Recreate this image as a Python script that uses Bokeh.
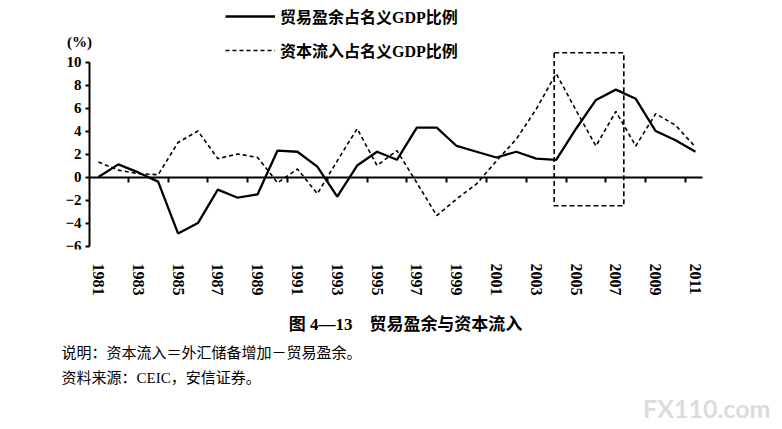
import math
from bokeh.plotting import figure
from bokeh.models import Range1d, LinearAxis, FixedTicker, Legend, LegendItem, Label, Title
from bokeh.embed import file_html
from bokeh.resources import INLINE

# ---- data ----
years = list(range(1981, 2012))
trade_surplus = [0.0, 1.1, 0.4, -0.4, -4.9, -4.0, -1.1, -1.8, -1.5, 2.3,
                 2.2, 0.9, -1.7, 1.0, 2.2, 1.5, 4.3, 4.3, 2.7, 2.2,
                 1.7, 2.2, 1.6, 1.5, 4.2, 6.7, 7.6, 6.8, 4.0, 3.2, 2.2]
capital_inflow = [1.3, 0.6, 0.3, 0.2, 3.0, 4.0, 1.6, 2.0, 1.7, -0.5,
                  0.7, -1.45, 1.4, 4.2, 1.0, 2.3, -0.5, -3.35, -1.9, -0.6,
                  1.4, 3.3, 5.9, 9.0, 5.8, 2.7, 5.7, 2.7, 5.5, 4.5, 2.6]
label_years = years[::2]
boundary_ticks = [y + 0.5 for y in years[1::2]]
y_ticks = list(range(-6, 11, 2))
highlight_left, highlight_right = 2003.9, 2007.4
highlight_bottom, highlight_top = -2.5, 10.8

series_names = ["贸易盈余占名义GDP比例", "资本流入占名义GDP比例"]
unit_text = "(%)"
caption = "图 4—13\u3000贸易盈余与资本流入"
note_text = "说明：资本流入＝外汇储备增加－贸易盈余。"
source_text = "资料来源：CEIC，安信证券。"
watermark = "FX110.com"

SERIF = "Liberation Serif"
CJK = "Noto Sans CJK SC"
MIX = "Liberation Serif, Noto Sans CJK SC"

# axis extent (data) and view range (wider, so texts fit in the frame)
ax_x0, ax_x1 = 1980.55, 2011.35
view_x0, view_x1 = 1978.09, 2014.77
view_y0, view_y1 = -6.3, 15.0

p = figure(width=782, height=429, output_backend="svg", toolbar_location=None,
           x_range=Range1d(view_x0, view_x1), y_range=Range1d(view_y0, view_y1),
           x_axis_location=None, y_axis_location=None,
           min_border_left=40, min_border_right=12,
           min_border_top=4, min_border_bottom=180)
p.outline_line_color = None
for g in p.grid:
    g.visible = False
p.background_fill_color = "white"
p.border_fill_color = "white"

# y axis placed at the start of the data
yaxis = LinearAxis(ticker=FixedTicker(ticks=y_ticks), bounds=(-6, 10),
                   fixed_location=ax_x0)
yaxis.axis_line_width = 2
yaxis.axis_line_color = "black"
yaxis.major_tick_out = 4
yaxis.major_tick_in = 0
yaxis.major_tick_line_width = 2
yaxis.minor_tick_line_color = None
yaxis.major_label_standoff = 4
yaxis.major_label_text_font = SERIF
yaxis.major_label_text_font_style = "bold"
yaxis.major_label_text_font_size = "15px"
yaxis.major_label_text_color = "black"
p.add_layout(yaxis, "left")

# axis line at zero with ticks between the years
zaxis = LinearAxis(ticker=FixedTicker(ticks=boundary_ticks), fixed_location=0,
                   bounds=(ax_x0, ax_x1))
zaxis.axis_line_width = 2
zaxis.axis_line_color = "black"
zaxis.major_tick_in = 5
zaxis.major_tick_out = 0
zaxis.minor_tick_out = 0
zaxis.minor_tick_in = 0
zaxis.major_tick_line_width = 2
zaxis.minor_tick_line_color = None
zaxis.major_label_standoff = 0
zaxis.major_label_overrides = {t: "" for t in boundary_ticks}
p.add_layout(zaxis, "above")

# year labels at the bottom
xlab = LinearAxis(ticker=FixedTicker(ticks=label_years))
xlab.axis_line_color = None
xlab.major_tick_line_color = None
xlab.minor_tick_line_color = None
xlab.major_tick_out = 0
xlab.minor_tick_out = 0
xlab.major_label_orientation = -math.pi / 2
xlab.major_label_standoff = 14
xlab.major_label_text_font = SERIF
xlab.major_label_text_font_style = "bold"
xlab.major_label_text_font_size = "16px"
xlab.major_label_text_color = "black"
p.add_layout(xlab, "below")

r1 = p.line(years, trade_surplus, line_color="black", line_width=2.3)
r2 = p.line(years, capital_inflow, line_color="black", line_width=1.6, line_dash="4 3")
p.quad(left=[highlight_left], right=[highlight_right], bottom=[highlight_bottom],
       top=[highlight_top], fill_color=None, line_color="black", line_width=1.6,
       line_dash="5 3")

legend = Legend(items=[LegendItem(label=series_names[0], renderers=[r1]),
                       LegendItem(label=series_names[1], renderers=[r2])],
                location=(185, 187), orientation="vertical",
                glyph_width=50, glyph_height=20, label_height=20, spacing=10,
                padding=0, margin=0, border_line_color=None,
                background_fill_alpha=0, label_standoff=5,
                label_text_font=MIX, label_text_font_size="16px",
                label_text_font_style="bold", label_text_color="black")
p.add_layout(legend)

p.add_layout(Label(x=39, y=208, x_units="screen", y_units="screen", text=unit_text,
                   text_font=SERIF, text_font_size="15px", text_font_style="bold",
                   text_color="black", text_align="center", text_baseline="middle"))


def add_title(text, align, offset, size, font, style, standoff, color="black"):
    t = Title(text=text, align=align, offset=offset, text_font=font,
              text_font_size=size, text_font_style=style, text_color=color,
              standoff=standoff)
    p.add_layout(t, "below")


add_title(" ", "left", 0, "6px", SERIF, "normal", 2)  # spacer
add_title(caption, "center", -25, "17px", MIX, "bold", 9)
add_title(note_text, "left", 21, "15px", CJK, "normal", 1)
add_title(source_text, "left", 21, "15px", MIX, "normal", 10)
add_title(watermark, "right", 0, "25px", "Lato", "bold", 0, color="#dcdcdc")

open("out.html", "w").write(file_html(p, INLINE))
